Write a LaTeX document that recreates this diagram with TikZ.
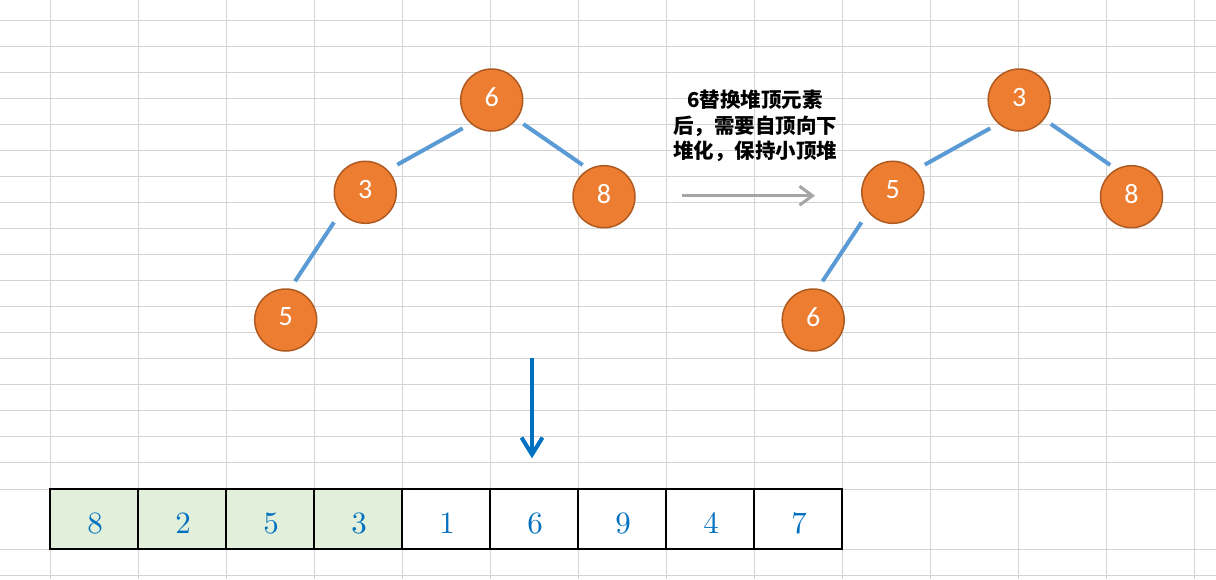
\documentclass[tikz,border=0pt]{standalone}
\usepackage{fontspec}
\usetikzlibrary{arrows.meta,calc}
\newfontfamily\cjkfont{Noto Sans CJK SC}
\newfontfamily\carlitofont{Carlito}
\newfontfamily\numfont{lmroman10-regular.otf}
\definecolor{gridc}{RGB}{212,212,212}
\definecolor{nodefill}{RGB}{237,125,49}
\definecolor{nodeedge}{RGB}{174,90,33}
\definecolor{edgeblue}{RGB}{91,155,213}
\definecolor{numblue}{RGB}{0,112,192}
\definecolor{cellgreen}{RGB}{226,239,218}
\definecolor{arrowgray}{RGB}{165,165,165}
\tikzset{
  gridline/.style={draw=gridc, line width=1pt},
  heapnode/.style={circle, minimum size=62pt, inner sep=0pt, fill=nodefill, draw=nodeedge, line width=1.5pt,
    text=white, font=\carlitofont\fontsize{28}{28}\selectfont, text depth=6pt},
  treeedge/.style={draw=edgeblue, line width=4pt},
  cellbox/.style={rectangle, minimum width=88pt, minimum height=60pt, inner sep=0pt, draw=black, line width=2.5pt},
  cellnum/.style={text=numblue, font=\numfont\fontsize{31}{31}\selectfont, inner sep=0pt},
  note/.style={align=center, font=\cjkfont\bfseries\fontsize{20.5}{25.5}\selectfont, inner sep=0pt},
}
\begin{document}
\begin{tikzpicture}[x=1pt,y=1pt]
\useasboundingbox (0,0) rectangle (1216,-579);
\fill[white] (0,0) rectangle (1216,-579);
% spreadsheet grid
\foreach \i in {0,...,13} \draw[gridline] ({50.3+88.03*\i},0) -- ({50.3+88.03*\i},-579);
\foreach \j in {0,...,17} \draw[gridline] (0,{-20.3-26*\j}) -- (1216,{-20.3-26*\j});
\foreach \yy in {489,549,575} \draw[gridline] (0,-\yy) -- (1216,-\yy);

% tree 1
\node[heapnode] (a6) at (491.7,-100) {6};
\node[heapnode] (a3) at (365.3,-192.3) {3};
\node[heapnode] (a8) at (604,-196.7) {8};
\node[heapnode] (a5) at (285.7,-320) {5};
\draw[treeedge] ($(a6)+(224.3:40.5)$) -- ($(a3)+(40.8:42.3)$);
\draw[treeedge] ($(a6)+(-37.2:39.7)$) -- ($(a8)+(123.9:38.2)$);
\draw[treeedge] ($(a3)+(223.8:43.4)$) -- ($(a5)+(76.5:39.8)$);

% tree 2
\node[heapnode] (b3) at (1019.2,-100) {3};
\node[heapnode] (b5) at (892.8,-192.3) {5};
\node[heapnode] (b8) at (1131.5,-196.7) {8};
\node[heapnode] (b6) at (813.2,-320) {6};
\draw[treeedge] ($(b3)+(224.3:40.5)$) -- ($(b5)+(40.8:42.3)$);
\draw[treeedge] ($(b3)+(-37.2:39.7)$) -- ($(b8)+(123.9:38.2)$);
\draw[treeedge] ($(b5)+(223.8:43.4)$) -- ($(b6)+(76.5:39.8)$);

% note and gray arrow
\node[note] (txt) at (755,-126) {6替换堆顶元素\\后，需要自顶向下\\堆化，保持小顶堆};
\coordinate (g1) at (682,-195.7);
\coordinate (g2) at (815,-195.7);
\draw[draw=arrowgray, line width=3pt, -{Straight Barb[length=13pt,width=19pt]}] (g1) -- (g2);

% blue arrow
\coordinate (d1) at (532,-358);
\coordinate (d2) at (532,-458.3);
\draw[draw=numblue, line width=4pt, -{Straight Barb[length=17pt,width=21pt]}] (d1) -- (d2);

% array
\foreach \v [count=\k] in {8,2,5,3,1,6,9,4,7} {
  \ifnum\k<5
    \node[cellbox, fill=cellgreen] (c\k) at ({50+88*(\k-0.5)},-519) {};
  \else
    \node[cellbox, fill=white] (c\k) at ({50+88*(\k-0.5)},-519) {};
  \fi
  \node[cellnum, anchor=base] (n\k) at ([xshift=1pt,yshift=-14.3pt]c\k.center) {\v};
}
\end{tikzpicture}
\end{document}
